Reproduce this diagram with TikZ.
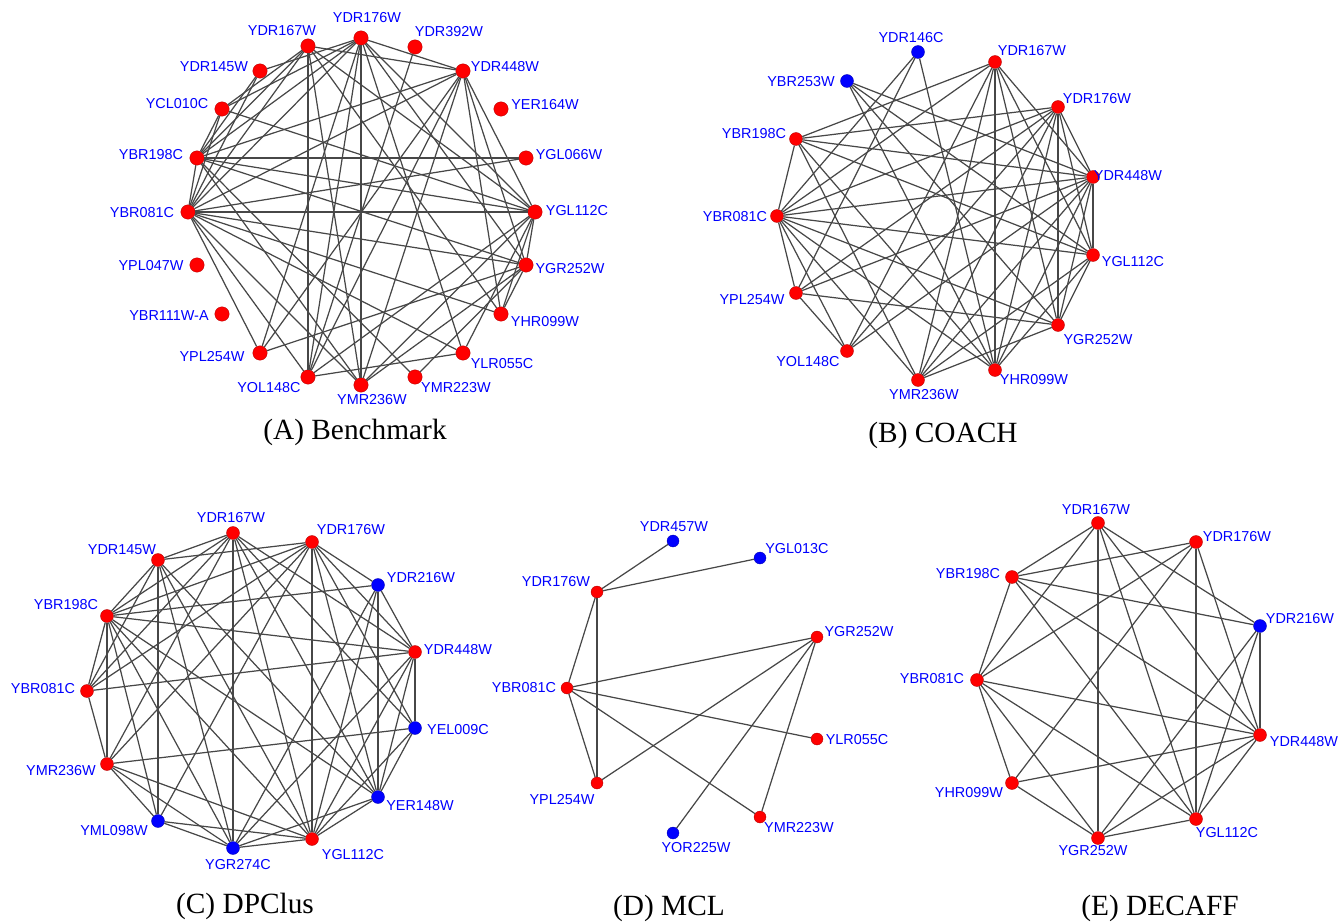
\documentclass[tikz,border=0pt]{standalone}
\usepackage{fontspec}
\setmainfont{Liberation Serif}
\setsansfont{Liberation Sans}
\usepackage{tikz}

\newcommand{\gene}[5]{%
  \node[#1] (#2) at (#3) {};
  \node[genelabel] (#2-l) at (#4) {#5};}

\tikzset{
  rednode/.style={circle, inner sep=0pt, minimum size=\dotsize, fill=red, draw=red!70!black, line width=0.2pt},
  bluenode/.style={rednode, fill=blue, draw=blue!70!black},
  genelabel/.style={inner sep=0pt, text=blue, font=\sffamily\fontsize{8.2}{9}\selectfont},
  edge/.style={draw=black!72, line width=0.7pt},
  caption/.style={inner sep=0pt, font=\fontsize{16.7}{19}\selectfont}
}

\begin{document}
\begin{tikzpicture}[x=0.02cm, y=-0.02cm]
  \useasboundingbox (0,0) rectangle (1339,922);

  % (A) Benchmark
  \def\dotsize{8.2pt}
  \gene{rednode}{a167}{308,46}{282,31}{YDR167W}
  \gene{rednode}{a176}{361,38}{367,18}{YDR176W}
  \gene{rednode}{a392}{415,47}{449,32}{YDR392W}
  \gene{rednode}{a448}{463,71}{505,67}{YDR448W}
  \gene{rednode}{a164}{501,109}{545,105}{YER164W}
  \gene{rednode}{a066}{526,158}{569,155}{YGL066W}
  \gene{rednode}{a112}{535,212}{577,211}{YGL112C}
  \gene{rednode}{a252}{526,265}{570,269}{YGR252W}
  \gene{rednode}{a099}{501,314}{545,322}{YHR099W}
  \gene{rednode}{a055}{463,353}{502,364}{YLR055C}
  \gene{rednode}{a223}{415,377}{456,388}{YMR223W}
  \gene{rednode}{a236}{361,385}{372,400}{YMR236W}
  \gene{rednode}{a148}{308,377}{269,388}{YOL148C}
  \gene{rednode}{a254}{260,353}{212,357}{YPL254W}
  \gene{rednode}{a111}{222,314}{169,316}{YBR111W-A}
  \gene{rednode}{a047}{197,265}{151,266}{YPL047W}
  \gene{rednode}{a081}{188,212}{142,213}{YBR081C}
  \gene{rednode}{a198}{197,158}{151,155}{YBR198C}
  \gene{rednode}{a010}{222,109}{177,104}{YCL010C}
  \gene{rednode}{a145}{260,71}{214,67}{YDR145W}
  \foreach \s/\t in {a167/a448, a167/a148, a167/a236, a167/a198, a167/a081, a167/a010, a167/a112, a167/a099,
      a176/a448, a176/a236, a176/a198, a176/a081, a176/a010, a176/a145, a176/a112, a176/a252, a176/a055, a176/a254, a176/a148,
      a448/a081, a448/a198, a448/a254, a448/a148, a448/a236, a448/a112, a448/a252, a448/a099, a392/a148,
      a198/a066, a198/a112, a198/a252, a198/a236, a198/a081, a198/a010, a198/a145, a198/a223,
      a081/a010, a081/a145, a081/a066, a081/a112, a081/a252, a081/a099, a081/a055, a081/a236, a081/a148, a081/a254,
      a010/a112, a254/a252, a148/a055, a148/a112, a236/a112, a236/a252, a223/a252, a055/a112, a099/a112, a099/a252, a252/a112}
    \draw[edge] (\s) -- (\t);
  \node[caption] (capA) at (355,432) {(A) Benchmark};

  % (B) COACH
  \def\dotsize{7.4pt}
  \gene{bluenode}{b146}{918,52}{911,38}{YDR146C}
  \gene{rednode}{b167}{995,62}{1032,51}{YDR167W}
  \gene{rednode}{b176}{1058,107}{1097,99}{YDR176W}
  \gene{rednode}{b448}{1093,177}{1128,176}{YDR448W}
  \gene{rednode}{b112}{1093,255}{1133,262}{YGL112C}
  \gene{rednode}{b252}{1058,325}{1098,340}{YGR252W}
  \gene{rednode}{b099}{995,370}{1034,380}{YHR099W}
  \gene{rednode}{b236}{918,380}{924,395}{YMR236W}
  \gene{rednode}{b148}{847,351}{808,362}{YOL148C}
  \gene{rednode}{b254}{796,293}{752,300}{YPL254W}
  \gene{rednode}{b081}{777,216}{735,217}{YBR081C}
  \gene{rednode}{b198}{796,139}{754,134}{YBR198C}
  \gene{bluenode}{b253}{847,81}{801,82}{YBR253W}
  \foreach \s/\t in {b146/b081, b146/b254, b146/b099, b253/b448, b253/b112, b253/b252, b253/b099,
      b167/b198, b167/b081, b167/b148, b167/b236, b167/b099, b167/b252, b167/b112, b167/b448,
      b176/b198, b176/b081, b176/b254, b176/b148, b176/b236, b176/b099, b176/b252, b176/b112, b176/b448,
      b448/b198, b448/b081, b448/b254, b448/b148, b448/b236, b448/b099, b448/b252, b448/b112,
      b112/b081, b112/b198, b112/b236, b112/b099, b112/b252, b252/b254, b252/b081, b252/b236,
      b099/b081, b099/b198, b236/b081, b236/b198, b148/b081, b148/b254, b254/b081, b081/b198}
    \draw[edge] (\s) -- (\t);
  \node[caption] (capB) at (943,435) {(B) COACH};

  % (C) DPClus
  \gene{rednode}{c167}{233,533}{231,518}{YDR167W}
  \gene{rednode}{c176}{312,542}{351,530}{YDR176W}
  \gene{bluenode}{c216}{378,585}{421,578}{YDR216W}
  \gene{rednode}{c448}{415,652}{458,650}{YDR448W}
  \gene{bluenode}{c009}{415,728}{458,730}{YEL009C}
  \gene{bluenode}{c148}{378,797}{420,806}{YER148W}
  \gene{rednode}{c112}{312,839}{353,855}{YGL112C}
  \gene{bluenode}{c274}{233,848}{238,865}{YGR274C}
  \gene{bluenode}{c098}{158,821}{114,831}{YML098W}
  \gene{rednode}{c236}{107,764}{61,771}{YMR236W}
  \gene{rednode}{c081}{87,691}{43,689}{YBR081C}
  \gene{rednode}{c198}{107,616}{66,605}{YBR198C}
  \gene{rednode}{c145}{158,560}{122,550}{YDR145W}
  \foreach \s/\t in {c145/c167, c145/c198, c145/c081, c145/c098, c145/c274, c145/c112, c145/c148, c145/c176,
      c167/c198, c167/c081, c167/c236, c167/c274, c167/c112, c167/c148, c167/c009, c167/c448,
      c176/c198, c176/c081, c176/c236, c176/c112, c176/c148, c176/c009, c176/c448, c176/c216, c176/c098,
      c216/c198, c216/c448, c216/c148, c216/c112, c216/c274,
      c448/c198, c448/c081, c448/c009, c448/c148, c448/c112, c448/c274,
      c009/c236, c009/c148, c009/c112, c148/c198, c148/c112, c148/c274,
      c112/c098, c112/c274, c112/c236, c112/c198, c274/c098, c274/c236, c274/c198,
      c098/c236, c098/c198, c236/c198, c236/c081, c081/c198}
    \draw[edge] (\s) -- (\t);
  \node[caption] (capC) at (245,906) {(C) DPClus};

  % (D) MCL
  \def\dotsize{6.8pt}
  \gene{bluenode}{d457}{673,541}{674,527}{YDR457W}
  \gene{bluenode}{d013}{760,558}{797,549}{YGL013C}
  \gene{rednode}{d176}{597,592}{556,582}{YDR176W}
  \gene{rednode}{d252}{817,637}{859,632}{YGR252W}
  \gene{rednode}{d081}{567,688}{524,688}{YBR081C}
  \gene{rednode}{d055}{817,739}{857,740}{YLR055C}
  \gene{rednode}{d254}{597,783}{562,800}{YPL254W}
  \gene{rednode}{d223}{760,817}{799,828}{YMR223W}
  \gene{bluenode}{d225}{673,833}{696,848}{YOR225W}
  \foreach \s/\t in {d176/d457, d176/d013, d176/d081, d176/d254, d081/d252, d081/d055,
      d081/d254, d081/d223, d252/d254, d252/d223, d252/d225}
    \draw[edge] (\s) -- (\t);
  \node[caption] (capD) at (669,908) {(D) MCL};

  % (E) DECAFF
  \def\dotsize{7.4pt}
  \gene{rednode}{e167}{1098,523}{1096,510}{YDR167W}
  \gene{rednode}{e176}{1196,542}{1237,537}{YDR176W}
  \gene{bluenode}{e216}{1260,626}{1300,619}{YDR216W}
  \gene{rednode}{e448}{1260,735}{1304,742}{YDR448W}
  \gene{rednode}{e112}{1196,819}{1227,833}{YGL112C}
  \gene{rednode}{e252}{1098,838}{1093,851}{YGR252W}
  \gene{rednode}{e099}{1012,783}{969,793}{YHR099W}
  \gene{rednode}{e081}{977,680}{932,679}{YBR081C}
  \gene{rednode}{e198}{1012,577}{968,574}{YBR198C}
  \foreach \s/\t in {e167/e198, e167/e081, e167/e252, e167/e216, e167/e448, e167/e112,
      e176/e198, e176/e081, e176/e099, e176/e112, e176/e448,
      e216/e198, e216/e448, e216/e112, e216/e252, e198/e081, e198/e448, e198/e112,
      e081/e099, e081/e252, e081/e448, e081/e112, e099/e252, e099/e448,
      e252/e112, e252/e448, e448/e112}
    \draw[edge] (\s) -- (\t);
  \node[caption] (capE) at (1160,908) {(E) DECAFF};
\end{tikzpicture}
\end{document}
